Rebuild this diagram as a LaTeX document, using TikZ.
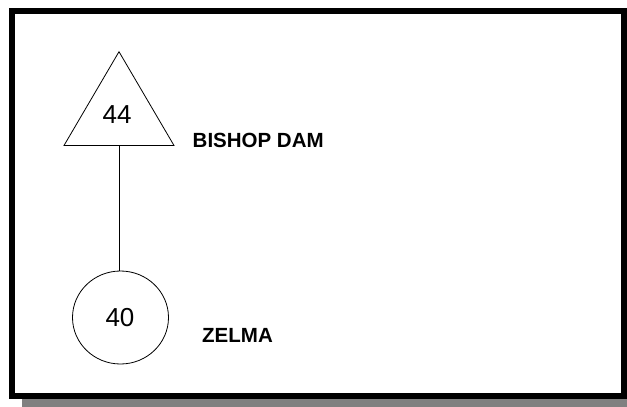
\documentclass[tikz,border=0pt]{standalone}
\usepackage{fontspec}
\setmainfont{Liberation Sans}
\usetikzlibrary{shapes.geometric}
\begin{document}
\begin{tikzpicture}[x=1pt,y=-1pt,
  frame/.style={line width=6pt},
  shadow/.style={fill=black!50},
  link/.style={line width=0.8pt},
  shapeline/.style={line width=0.8pt},
  numtext/.style={inner sep=0pt,anchor=base,font=\fontsize{26}{26}\selectfont},
  labeltext/.style={inner sep=0pt,anchor=base west,font=\fontsize{20.5}{20.5}\selectfont\bfseries}]
\useasboundingbox (0,0) rectangle (627,407);
\fill[shadow] (22,399.3) rectangle (626.5,407);
\draw[frame] (12,10.5) rectangle (623.8,396.3);
% triangle (dam)
\coordinate (ta) at (119,51.7);
\coordinate (tl) at (64,145.5);
\coordinate (tr) at (174,145.5);
\coordinate (tb) at (119,145.5);
\draw[shapeline,line join=miter] (ta) -- (tl) -- (tr) -- cycle;
\node[numtext] (n44) at (117.2,123.3) {44};
\node[labeltext] (l44) at (192.5,147.7) {BISHOP DAM};
% circle
\node[ellipse,draw,shapeline,minimum width=96pt,minimum height=93pt,inner sep=0pt] (zc) at (120.5,317.5) {};
\node[numtext] (n40) at (120,326.7) {40};
\node[labeltext] (l40) at (202,342.7) {ZELMA};
\draw[link] (tb) -- (tb |- zc.north);
\end{tikzpicture}
\end{document}
